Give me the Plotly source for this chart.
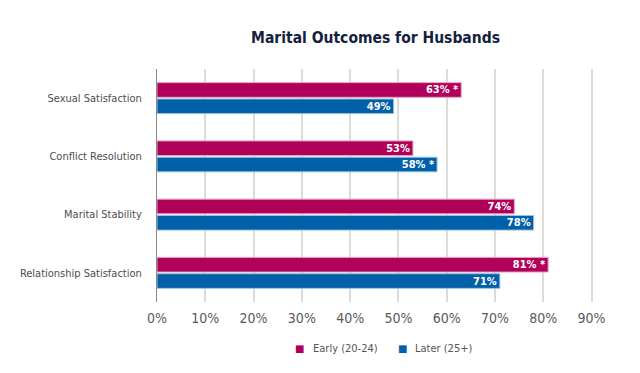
import plotly.graph_objects as go

categories = ["Sexual Satisfaction", "Conflict Resolution", "Marital Stability", "Relationship Satisfaction"]
early_values = [63, 53, 74, 81]
later_values = [49, 58, 78, 71]
early_labels = ["63% *", "53%", "74%", "81% *"]
later_labels = ["49%", "58% *", "78%", "71%"]
series_names = ["Early (20-24)", "Later (25+)"]
series_colors = ["#b0005a", "#0060a8"]
tick_vals = [0, 10, 20, 30, 40, 50, 60, 70, 80, 90]
tick_text = ["0%", "10%", "20%", "30%", "40%", "50%", "60%", "70%", "80%", "90%"]

FONT = "DejaVu Sans Condensed, Roboto, sans-serif"

fig = go.Figure()
fig.add_trace(go.Bar(
    y=categories, x=early_values, orientation="h", name=series_names[0],
    marker=dict(color=series_colors[0], line=dict(color="#e7a3c3", width=1)),
    text=early_labels, textposition="inside", insidetextanchor="end",
    textfont=dict(color="white", size=11, family=FONT, weight="bold"),
))
fig.add_trace(go.Bar(
    y=categories, x=later_values, orientation="h", name=series_names[1],
    marker=dict(color=series_colors[1], line=dict(color="#9cc3e4", width=1)),
    text=later_labels, textposition="inside", insidetextanchor="end",
    textfont=dict(color="white", size=11, family=FONT, weight="bold"),
))

# page body has an 8px margin, so margins compensate for it
fig.update_layout(
    width=640, height=373,
    margin=dict(l=149, r=54, t=61, b=79),
    paper_bgcolor="white", plot_bgcolor="white",
    barmode="group", bargap=0.44, bargroupgap=0.1,
    title=dict(text="<b>Marital Outcomes for Husbands</b>", x=0.5, xanchor="center", xref="paper",
               y=1 - 30 / 373, yanchor="middle", yref="container",
               font=dict(family=FONT, size=15.5, color="#14213d")),
    font=dict(family=FONT, color="#555555"),
    showlegend=False,
    uniformtext=dict(mode="show", minsize=8),
)

legend_sq_x = [0.327, 0.561]
legend_tx_x = [0.353, 0.586]
for name, color, sx, tx in zip(series_names, series_colors, legend_sq_x, legend_tx_x):
    fig.add_annotation(x=sx, y=-0.2017, xref="paper", yref="paper", text="■", showarrow=False,
                       xanchor="center", yanchor="middle", font=dict(size=10, color=color, family="DejaVu Sans"))
    fig.add_annotation(x=tx, y=-0.2017, xref="paper", yref="paper", text=name, showarrow=False,
                       xanchor="left", yanchor="middle", font=dict(size=11, color="#555555", family=FONT))

fig.update_xaxes(range=[0, 90.5], tickvals=tick_vals, ticktext=tick_text,
                 showgrid=True, gridcolor="#dddbd5", gridwidth=1.5, zeroline=False,
                 tickfont=dict(size=14, color="#5a5a5a", family=FONT), ticks="",
                 ticklabelstandoff=6, fixedrange=True)
fig.update_yaxes(autorange="reversed", showline=True, linecolor="#888888", linewidth=1,
                 ticks="", ticklabelstandoff=12, tickfont=dict(size=11, color="#4d4d4d", family=FONT))

fig.write_html("out.html")
